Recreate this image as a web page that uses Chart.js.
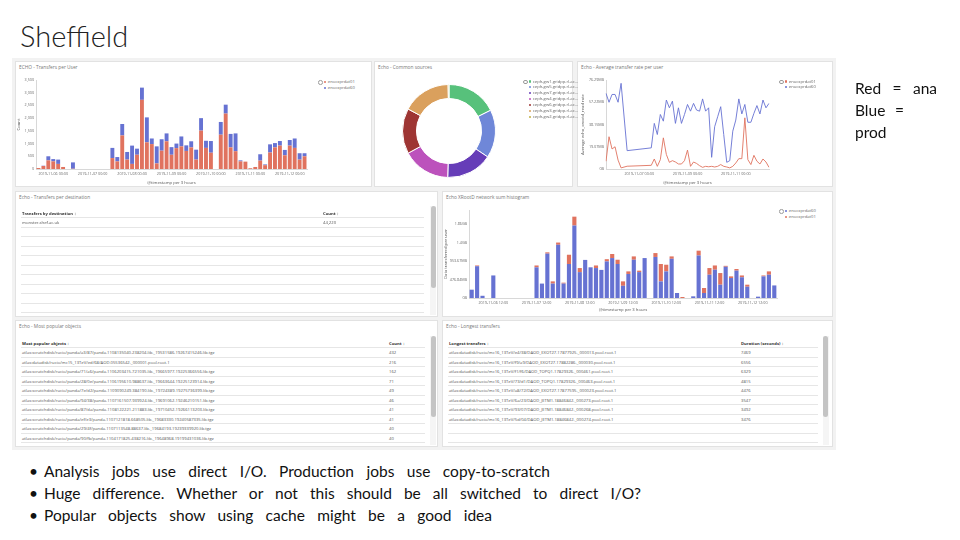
<!DOCTYPE html>
<html>
<head>
<meta charset="utf-8">
<script src="https://cdn.jsdelivr.net/npm/chart.js@4.4.1/dist/chart.umd.min.js"></script>
<style>
  body { margin: 0; width: 960px; height: 540px; position: relative; overflow: hidden; background: #fff; font-family: 'Open Sans', sans-serif; }
  .abs { position: absolute; }
  #title { left: 20px; top: 18px; font: 300 29px Lato, sans-serif; color: #222; white-space: nowrap; }
  #dash { left: 12px; top: 58px; width: 824px; height: 392px; background: #f2f2f2; }
  .panel { position: absolute; background: #fff; border: 1px solid #e2e2e2; box-sizing: border-box; }
  .ptitle { position: absolute; left: 3px; top: 2px; font-size: 4.8px; color: #777; white-space: nowrap; }
  canvas { position: absolute; }
  .legend { position: absolute; font-size: 4.2px; color: #666; line-height: 5.9px; white-space: nowrap; }
  .legend .dot { display: inline-block; width: 2.4px; height: 2.4px; border-radius: 50%; margin-right: 1.4px; vertical-align: middle; }
  .legend .tog { position: absolute; left: -6px; top: 1px; width: 2.6px; height: 2.6px; border: 0.6px solid #999; border-radius: 50%; }
  .row { position: absolute; height: 9.5px; border-bottom: 0.8px solid #e6e6e6; box-sizing: border-box; font-size: 4.2px; color: #555; line-height: 9px; white-space: nowrap; }
  .row.head { font-weight: 700; color: #333; }
  .row span { position: absolute; top: 0; }
  .thumb { position: absolute; width: 5px; background: #c4c4c4; border-radius: 2.5px; }
  .track { position: absolute; width: 6px; background: #f5f5f5; }
  .txt { position: absolute; font: 15.5px Lato, sans-serif; color: #111; line-height: 22px; white-space: nowrap; text-align: justify; text-align-last: justify; }
  .bul { position: absolute; font: 15.5px Lato, sans-serif; color: #111; line-height: 22px; left: 29px; }
</style>
</head>
<body>
<div id="title" class="abs">Sheffield</div>
<div id="dash" class="abs"></div>

<div class="panel" style="left:15px;top:61px;width:357px;height:126px"><div class="ptitle">ECHO - Transfers per User</div></div>
<div class="panel" style="left:374px;top:61px;width:199px;height:126px"><div class="ptitle">Echo - Common sources</div></div>
<div class="panel" style="left:577px;top:61px;width:256px;height:126px"><div class="ptitle">Echo - Average transfer rate per user</div></div>
<div class="panel" style="left:15px;top:191px;width:423px;height:126px"><div class="ptitle">Echo - Transfers per destination</div></div>
<div class="panel" style="left:442px;top:191px;width:391px;height:126px"><div class="ptitle">Echo XRootD network sum histogram</div></div>
<div class="panel" style="left:15px;top:320px;width:423px;height:127px"><div class="ptitle">Echo - Most popular objects</div></div>
<div class="panel" style="left:442px;top:320px;width:391px;height:127px"><div class="ptitle">Echo - Longest transfers</div></div>

<canvas id="cUsers" width="294" height="112" style="left:16px;top:74px"></canvas>
<canvas id="cSources" width="94" height="94" style="left:402px;top:84px"></canvas>
<canvas id="cRate" width="192" height="112" style="left:580px;top:74px"></canvas>
<canvas id="cHist" width="337" height="109" style="left:443px;top:204px"></canvas>

<div id="lUsers" class="legend" style="left:324px;top:79px"></div>
<div id="lSources" class="legend" style="left:529px;top:78.5px"></div>
<div id="lRate" class="legend" style="left:785px;top:78.5px"></div>
<div id="lHist" class="legend" style="left:785px;top:208px"></div>

<div id="tDest"></div>
<div id="tPopular"></div>
<div id="tLongest"></div>

<div class="bul" style="top:460px">•</div>
<div class="bul" style="top:482px">•</div>
<div class="bul" style="top:504px">•</div>
<div class="txt" style="left:44px;top:460px;width:506px">Analysis jobs use direct I/O. Production jobs use copy-to-scratch</div>
<div class="txt" style="left:44px;top:482px;width:597px">Huge difference. Whether or not this should be all switched to direct I/O?</div>
<div class="txt" style="left:44px;top:504px;width:448px">Popular objects show using cache might be a good idea</div>

<div class="txt" style="left:855px;top:77px;width:82px">Red = ana</div>
<div class="txt" style="left:855px;top:99px;width:49px">Blue =</div>
<div class="txt" style="left:855px;top:121px;width:34px">prod</div>

<script>
// Colores tomados del tablero
const RED = '#e0735f';
const BLUE = '#6672d2';
const AXIS = '#d8d8d8';
const TICK = '#6a6a6a';

// Transfers per User (cubetas de 3 horas desde 2019-11-05 15:00)
const userSeries = ['enocxprdat01', 'enocxprdat60'];
const userTicks = ['2019-11-06 00:00', '2019-11-07 00:00', '2019-11-08 00:00', '2019-11-09 00:00',
  '2019-11-10 00:00', '2019-11-11 00:00', '2019-11-12 00:00'];
const userAna = [40, 120, 340, 300, 200, 80, 0, 10, 0, 0, 0, 0, 0, 0, 0,
  430, 300, 1320, 370, 200, 560, 2720, 1050, 980, 220, 720, 1090, 560, 820, 890, 710, 850, 370, 1510, 830, 640,
  0, 1350, 2180, 850, 700, 300, 290, 30, 80, 330, 150, 650, 850, 920, 540, 920, 830, 370, 500];
const userProd = [0, 10, 160, 90, 170, 0, 0, 250, 0, 0, 0, 0, 0, 0, 0,
  400, 170, 450, 300, 720, 240, 480, 980, 220, 670, 450, 310, 300, 180, 390, 220, 240, 390, 490, 280, 460,
  0, 500, 350, 530, 700, 40, 0, 0, 0, 250, 30, 320, 170, 180, 210, 220, 370, 250, 120];

// Common sources
const sourceLabels = ['ceph-gw1.gridpp.rl.ac...', 'ceph-gw5.gridpp.rl.ac...', 'ceph-gw7.gridpp.rl.ac...',
  'ceph-gw4.gridpp.rl.ac...', 'ceph-gw6.gridpp.rl.ac...', 'ceph-gw3.gridpp.rl.ac...', 'ceph-gw2.gridpp.rl.ac...'];
const sourceValues = [17.7, 16.8, 16.1, 16.7, 15.8, 16.9, 0.3];
const sourceColors = ['#57c17b', '#6f87d8', '#663db8', '#bc52bc', '#9e3533', '#daa05d', '#bfaf40'];

// Average transfer rate per user (MB = 1e6 bytes)
const rateTicks = ['2019-11-07 00:00', '2019-11-09 00:00', '2019-11-11 00:00'];
const rateAna = [7, 29, 18, 20, 8, 1, null, 2.5, null, null, null, null, null, null, null,
  3.3, 9, 2.4, 8.4, 28, 13, 6, 7.5, 6.3, 4.5, 4.5, 7.5, 17, 2.4, 6.3, 5, 3, 1.5, 2.4, 2, 2.4,
  1.8, 2.4, 4, 2.4, 1.8, 1, 2.4, 5.4, 9.3, 9.3, 46, 8.4, 4, 12.3, 7, 4.5, 9, 6.3, 1.5];
const rateProd = [68, 60, 67, 67, 60, 77, null, 16.5, null, null, null, null, null, null, null,
  19, 41, 31, 49, 43, 62, 55, 61, 41, 55, 41, 49, 58, 52, 59, 53, 52, 63, 52, 55, 10.5,
  38, 47, 56, 31, 6, 7.5, 34, 44, 63, 49.5, 58, 42, 42, 50, 57, 49.5, 62, 55, 59];

// XRootD network sum histogram (cubetas de 3 horas desde 2019-11-06 00:00, MB = 1e6 bytes)
const histSeries = ['enocxprdat60', 'enocxprdat01'];
const histTicks = ['2019-11-06 12:00', '2019-11-07 12:00', '2019-11-08 12:00', '2019-11-09 12:00',
  '2019-11-10 12:00', '2019-11-11 12:00', '2019-11-12 12:00'];
const histYTicks = [0, 500, 1000, 1500, 2000];
const histProd = [225, 860, 60, 0, 610, 0, 0, 0, 0, 0, 0, 0,
  830, 390, 1200, 390, 1440, 390, 920, 1960, 700, 1030, 830, 810, 760, 990, 1080, 920, 330, 650, 1035, 700, 1080,
  0, 1110, 450, 720, 1060, 135, 0, 0, 45, 1150, 135, 630, 765, 360, 845, 540, 740, 560, 305, 0, 36, 585, 630, 340];
const histAna = [0, 20, 0, 0, 0, 0, 0, 0, 0, 0, 0, 0,
  50, 0, 35, 60, 60, 25, 250, 240, 110, 0, 0, 70, 0, 60, 110, 115, 120, 70, 90, 40, 0,
  0, 105, 470, 180, 65, 0, 27, 0, 0, 130, 135, 180, 115, 315, 25, 45, 45, 50, 55, 0, 0, 25, 90, 0];

// Tablas
const destHeaders = ['Transfers by destination ↕', 'Count ↕'];
const destRows = [['monster.shef.ac.uk', '44,220']];
const popularHeaders = ['Most popular objects ↕', 'Count ↕'];
const popularRows = [
  ['atlas:scratchdisk/rucio/panda/a3/87/panda.1108135040.238204.lib._19531586.19267415246.lib.tgz', '432'],
  ['atlas:datadisk/rucio/mc15_13TeV/ed/68/AOD.05536542._000001.pool.root.1', '216'],
  ['atlas:scratchdisk/rucio/panda/71/a6/panda.1106203415.721035.lib._19665977.19225366556.lib.tgz', '162'],
  ['atlas:scratchdisk/rucio/panda/28/0e/panda.1106195610.988637.lib._19663644.19225123914.lib.tgz', '71'],
  ['atlas:scratchdisk/rucio/panda/7e/d2/panda.1109090249.384190.lib._19724389.19275736399.lib.tgz', '49'],
  ['atlas:scratchdisk/rucio/panda/94/38/panda.1107161507.939924.lib._19691062.19246210151.lib.tgz', '46'],
  ['atlas:scratchdisk/rucio/panda/87/da/panda.1108122221.211883.lib._19710452.19266113203.lib.tgz', '41'],
  ['atlas:scratchdisk/rucio/panda/ef/e3/panda.1107121818.668505.lib._19683330.19240587335.lib.tgz', '41'],
  ['atlas:scratchdisk/rucio/panda/29/4f/panda.1107113548.88637.lib._19684193.19239339920.lib.tgz', '40'],
  ['atlas:scratchdisk/rucio/panda/90/fb/panda.1104171825.438216.lib._19648968.19199431036.lib.tgz', '40']
];
const longestHeaders = ['Longest transfers ↕', 'Duration (seconds) ↕'];
const longestRows = [
  ['atlas:datadisk/rucio/mc16_13TeV/e4/38/DAOD_EXOT27.17877925._000013.pool.root.1', '7469'],
  ['atlas:datadisk/rucio/mc16_13TeV/f9/a9/DAOD_EXOT27.17882286._000030.pool.root.1', '6556'],
  ['atlas:datadisk/rucio/mc16_13TeV/f1/f6/DAOD_TOPQ1.17829326._000461.pool.root.1', '6329'],
  ['atlas:datadisk/rucio/mc16_13TeV/73/d1/DAOD_TOPQ1.17829326._000463.pool.root.1', '4815'],
  ['atlas:datadisk/rucio/mc16_13TeV/a8/72/DAOD_EXOT27.17877595._000023.pool.root.1', '4476'],
  ['atlas:datadisk/rucio/mc16_13TeV/6a/23/DAOD_JETM1.18846842._000273.pool.root.1', '3547'],
  ['atlas:datadisk/rucio/mc16_13TeV/93/07/DAOD_JETM1.18846842._000268.pool.root.1', '3492'],
  ['atlas:datadisk/rucio/mc16_13TeV/5d/04/DAOD_JETM1.18846842._000274.pool.root.1', '3476']
];

// Etiquetas de cubetas de 3 horas
function buckets(start, n) {
  const t0 = Date.parse(start.replace(' ', 'T') + ':00Z');
  const out = [];
  for (let i = 0; i < n; i++) out.push(new Date(t0 + i * 3 * 3600e3).toISOString().slice(0, 16).replace('T', ' '));
  return out;
}
const userBuckets = buckets('2019-11-05 15:00', userAna.length);
const histBuckets = buckets('2019-11-06 00:00', histProd.length);

// Formato de bytes estilo Kibana
function fmtBytes(mb) {
  const b = Number(mb) * 1e6;
  if (b === 0) return '0B';
  const units = ['B', 'KB', 'MB', 'GB', 'TB'];
  let u = 0, v = b;
  while (v >= 1024 && u < units.length - 1) { v /= 1024; u++; }
  return parseFloat(v.toFixed(2)) + units[u];
}

Chart.defaults.font.family = 'Open Sans';
Chart.defaults.animation = false;
Chart.defaults.responsive = false;

const tickFont = { size: 3.7 };
const titleFont = { size: 4.2 };

function xAxis(labels, shown, height) {
  return {
    stacked: true,
    grid: { display: false, drawTicks: false },
    border: { color: AXIS },
    ticks: {
      autoSkip: false, maxRotation: 0, font: tickFont, color: TICK, padding: 3,
      callback: (v, i) => shown.includes(labels[i]) ? labels[i] : ''
    },
    title: { display: true, text: '@timestamp per 3 hours', font: titleFont, color: '#555', padding: { top: 0, bottom: 1 } },
    afterFit: s => { s.height = height; }
  };
}
function yAxis(max, step, fmt, title, width) {
  return {
    stacked: true, min: 0, max: max,
    grid: { display: false, drawTicks: false },
    border: { color: AXIS },
    ticks: { stepSize: step, autoSkip: false, font: tickFont, color: TICK, padding: 2,
      callback: v => fmt(v) },
    title: { display: true, text: title, font: titleFont, color: '#555', padding: 0 },
    afterFit: s => { s.width = width; }
  };
}
const baseOpts = pad => ({
  layout: { padding: pad },
  plugins: { legend: { display: false }, tooltip: { enabled: false } }
});

new Chart(document.getElementById('cUsers'), {
  type: 'bar',
  data: {
    labels: userBuckets,
    datasets: [
      { label: userSeries[0], data: userAna, backgroundColor: RED, categoryPercentage: 0.9, barPercentage: 0.88 },
      { label: userSeries[1], data: userProd, backgroundColor: BLUE, categoryPercentage: 0.9, barPercentage: 0.88 }
    ]
  },
  options: {
    ...baseOpts({ top: 6, right: 3 }),
    scales: {
      x: xAxis(userBuckets, userTicks, 17),
      y: yAxis(3500, 500, v => v.toLocaleString('en-US'), 'Count', 20)
    }
  }
});

new Chart(document.getElementById('cSources'), {
  type: 'doughnut',
  data: { labels: sourceLabels, datasets: [{ data: sourceValues, backgroundColor: sourceColors, borderColor: '#fff', borderWidth: 1 }] },
  options: { ...baseOpts(0), cutout: '70%' }
});

new Chart(document.getElementById('cRate'), {
  type: 'line',
  data: {
    labels: userBuckets,
    datasets: [
      { label: userSeries[0], data: rateAna, borderColor: RED, borderWidth: 0.9, pointRadius: 0, spanGaps: true, tension: 0 },
      { label: userSeries[1], data: rateProd, borderColor: BLUE, borderWidth: 0.9, pointRadius: 0, spanGaps: true, tension: 0 }
    ]
  },
  options: {
    ...baseOpts({ top: 6, right: 3 }),
    scales: {
      x: { ...xAxis(userBuckets, rateTicks, 17), stacked: false },
      y: { ...yAxis(80, 20, fmtBytes, 'Average echo_xrootd_read rate', 26), stacked: false }
    }
  }
});

const histY = yAxis(2380, 500, fmtBytes, 'Data transferred per user', 26);
histY.afterBuildTicks = s => { s.ticks = histYTicks.map(v => ({ value: v })); };
new Chart(document.getElementById('cHist'), {
  type: 'bar',
  data: {
    labels: histBuckets,
    datasets: [
      { label: histSeries[0], data: histProd, backgroundColor: BLUE, categoryPercentage: 0.9, barPercentage: 0.85 },
      { label: histSeries[1], data: histAna, backgroundColor: RED, categoryPercentage: 0.9, barPercentage: 0.85 }
    ]
  },
  options: {
    ...baseOpts({ top: 6, right: 3 }),
    scales: {
      x: xAxis(histBuckets, histTicks, 15),
      y: histY
    }
  }
});

// Leyendas en HTML
function legend(id, labels, colors) {
  const el = document.getElementById(id);
  el.innerHTML = '<span class="tog"></span>' + labels.map((l, i) =>
    '<div><span class="dot" style="background:' + colors[i] + '"></span>' + l + '</div>').join('');
}
legend('lUsers', userSeries, [RED, BLUE]);
legend('lSources', sourceLabels, sourceColors);
legend('lRate', userSeries, [RED, BLUE]);
legend('lHist', histSeries, [BLUE, RED]);

// Tablas en HTML
function table(id, o) {
  const el = document.getElementById(id);
  let html = '';
  const all = [o.headers].concat(o.rows);
  for (let k = 0; k < o.lines; k++) {
    const r = all[k] || ['', ''];
    html += '<div class="row' + (k === 0 ? ' head' : '') + '" style="left:' + o.left + 'px;top:' + (o.top + k * 9.5) + 'px;width:' + o.width + 'px">' +
      '<span style="left:1px">' + r[0] + '</span><span style="left:' + o.col + 'px">' + r[1] + '</span></div>';
  }
  html += '<div class="track" style="left:' + o.bar + 'px;top:' + (o.top - 3) + 'px;height:' + (o.lines * 9.5 + 5) + 'px"></div>';
  html += '<div class="thumb" style="left:' + (o.bar + 0.5) + 'px;top:' + (o.top - 2.5) + 'px;height:' + o.thumb + 'px"></div>';
  el.innerHTML = html;
}
table('tDest', { headers: destHeaders, rows: destRows, left: 21, top: 208.5, width: 403, col: 302, lines: 11, bar: 430, thumb: 82 });
table('tPopular', { headers: popularHeaders, rows: popularRows, left: 21, top: 338.5, width: 404, col: 368, lines: 11, bar: 430, thumb: 81 });
table('tLongest', { headers: longestHeaders, rows: longestRows, left: 448, top: 338.5, width: 370, col: 293, lines: 11, bar: 822.5, thumb: 81 });
</script>
</body>
</html>
